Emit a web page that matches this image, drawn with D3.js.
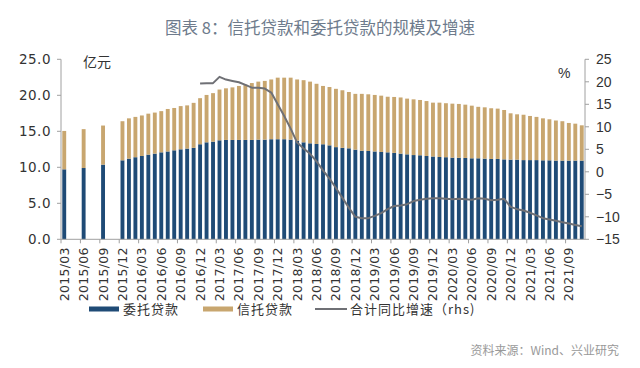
<!DOCTYPE html>
<html><head><meta charset="utf-8">
<script src="https://cdn.jsdelivr.net/npm/d3@7"></script>
<style>
body{margin:0;background:#fff;}
svg{display:block;}
</style></head>
<body>
<svg id="c" width="640" height="368"></svg>
<script>
// Monthly categories 2015/03 .. 2021/11
const months = [];
for (let y = 2015; y <= 2021; y++) {
  for (let m = 1; m <= 12; m++) {
    if (y === 2015 && m < 3) continue;
    if (y === 2021 && m > 11) continue;
    months.push(y + "/" + String(m).padStart(2, "0"));
  }
}
// 委托贷款
const entrust = [9.72,null,null,9.9,null,null,10.37,null,null,10.97,
 11.2,11.4,11.57,11.76,11.9,12.08,12.2,12.36,12.5,12.6,12.7,13.2,
 13.47,13.56,13.75,13.8,13.8,13.8,13.8,13.8,13.84,13.84,13.9,13.9,
 13.9,13.84,13.7,13.47,13.33,13.24,13.2,13.05,12.8,12.7,12.64,12.45,
 12.3,12.27,12.2,12.13,12.08,12.0,11.9,11.8,11.7,11.67,11.57,11.5,
 11.43,11.4,11.34,11.32,11.3,11.25,11.25,11.2,11.16,11.16,11.1,11.06,
 11.06,11.0,11.0,11.0,10.97,10.97,10.93,10.93,10.93,10.93,10.93];
// 信托贷款
const trust = [5.33,null,null,5.4,null,null,5.43,null,null,5.43,
 5.6,5.6,5.63,5.69,5.7,5.72,5.9,5.88,6.0,6.0,6.25,6.4,
 6.58,6.74,7.05,7.17,7.3,7.5,7.7,7.9,8.06,8.16,8.3,8.55,
 8.55,8.61,8.5,8.63,8.57,8.36,8.1,8.1,8.1,8.0,7.82,7.75,
 7.9,7.87,7.85,7.82,7.72,7.77,7.8,7.74,7.74,7.68,7.63,7.48,
 7.55,7.5,7.5,7.48,7.4,7.31,7.15,7.13,7.04,6.99,6.86,6.44,
 6.3,6.3,6.13,6.0,5.83,5.7,5.57,5.47,5.23,5.13,4.9];
// 合计同比增速 (rhs, %)
const growth = [null,null,null,null,null,null,null,null,null,null,
 null,null,null,null,null,null,null,null,null,null,null,19.6,
 19.7,19.7,21.1,20.5,20.2,19.9,19.3,18.7,18.7,18.5,17.6,15.0,
 12.4,9.6,6.5,5.2,4.0,2.3,0.3,-1.5,-3.6,-5.8,-8.0,-10.0,
 -10.3,-10.3,-9.8,-9.2,-8.3,-7.6,-7.5,-7.2,-6.5,-6.2,-6.0,-5.9,
 -5.9,-6.0,-6.1,-6.0,-6.1,-6.2,-5.9,-6.0,-6.3,-6.2,-6.0,-7.8,
 -8.3,-8.6,-9.1,-9.7,-10.3,-10.6,-10.9,-11.2,-11.5,-11.8,-12.1];
const leftTicks = [0,5,10,15,20,25];
const rightTicks = [-15,-10,-5,0,5,10,15,20,25];

const svg = d3.select("#c");
const L = 61, R = 585, T = 59.3, B = 239.3;
const C_BLUE = "#1f4b76", C_TAN = "#c8a66f", C_LINE = "#6f7075", C_AX = "#a0a0a0";

const x = d3.scaleBand().domain(months).range([L, R]).paddingInner(0.4).paddingOuter(0.2);
const yL = d3.scaleLinear().domain([0, 25]).range([B, T]);
const yR = d3.scaleLinear().domain([-15, 25]).range([B, T]);
const step = x.step();

// title
svg.append("text").attr("x", 320).attr("y", 33.5).attr("text-anchor", "middle")
  .attr("font-family", "Noto Sans CJK SC").attr("font-size", 16.5).attr("fill", "#6e7b8c")
  .text("图表 8：信托贷款和委托贷款的规模及增速");

// bars
const data = months.map((m, i) => ({m, e: entrust[i], t: trust[i], g: growth[i]}));
const bw = x.bandwidth();
svg.append("g").selectAll("rect").data(data.filter(d => d.e != null)).join("rect")
  .attr("x", d => x(d.m)).attr("width", bw)
  .attr("y", d => yL(d.e)).attr("height", d => yL(0) - yL(d.e)).attr("fill", C_BLUE);
svg.append("g").selectAll("rect").data(data.filter(d => d.t != null)).join("rect")
  .attr("x", d => x(d.m)).attr("width", bw)
  .attr("y", d => yL(d.e + d.t)).attr("height", d => yL(d.e) - yL(d.e + d.t)).attr("fill", C_TAN);

// line
const line = d3.line().defined(d => d.g != null)
  .x(d => x(d.m) + bw / 2).y(d => yR(d.g));
svg.append("path").datum(data).attr("d", line).attr("fill", "none")
  .attr("stroke", C_LINE).attr("stroke-width", 2).attr("stroke-linejoin", "round");

// axes
const ax = svg.append("g").attr("stroke", C_AX).attr("stroke-width", 1);
ax.append("line").attr("x1", L).attr("x2", L).attr("y1", T).attr("y2", B);
ax.append("line").attr("x1", R).attr("x2", R).attr("y1", T).attr("y2", B);
ax.append("line").attr("x1", L).attr("x2", R).attr("y1", B).attr("y2", B);
leftTicks.forEach(v => {
  ax.append("line").attr("x1", L - 4).attr("x2", L).attr("y1", yL(v)).attr("y2", yL(v));
  svg.append("text").attr("x", 51).attr("y", yL(v)).attr("dy", "0.36em").attr("text-anchor", "end")
    .attr("font-family", "DejaVu Sans").attr("font-size", 13.5).attr("fill", "#333")
    .attr("letter-spacing", 0.5).text(v.toFixed(1));
});
rightTicks.forEach(v => {
  ax.append("line").attr("x1", R).attr("x2", R + 4).attr("y1", yR(v)).attr("y2", yR(v));
  svg.append("text").attr("x", 596).attr("y", yR(v)).attr("dy", "0.36em").attr("text-anchor", "start")
    .attr("font-family", "Liberation Sans").attr("font-size", 14).attr("fill", "#333")
    .text(v < 0 ? "\u2212" + Math.abs(v) : v);
});
months.forEach((m, i) => {
  if (i % 3 !== 0) return;
  const bx = x(m) - step * 0.2;
  ax.append("line").attr("x1", bx).attr("x2", bx).attr("y1", B).attr("y2", B + 4);
  const cx = x(m) + bw / 2;
  svg.append("text").attr("transform", `translate(${cx},${B + 8}) rotate(-90)`)
    .attr("text-anchor", "end").attr("dy", "0.36em")
    .attr("font-family", "DejaVu Sans").attr("font-size", 12.5).attr("fill", "#333")
    .attr("letter-spacing", 0.3).text(m);
});

// unit labels
svg.append("text").attr("x", 83).attr("y", 67).attr("font-family", "Noto Sans CJK SC")
  .attr("font-size", 14).attr("fill", "#333").text("亿元");
svg.append("text").attr("x", 558).attr("y", 78).attr("font-family", "Liberation Sans")
  .attr("font-size", 14).attr("fill", "#333").text("%");

// legend
const lg = svg.append("g").attr("font-family", "Noto Sans CJK SC").attr("font-size", 13)
  .attr("fill", "#333").attr("letter-spacing", 1);
lg.append("rect").attr("x", 89).attr("y", 306.5).attr("width", 30).attr("height", 5).attr("fill", C_BLUE);
lg.append("text").attr("x", 123).attr("y", 309).attr("dy", "0.36em").text("委托贷款");
lg.append("rect").attr("x", 203).attr("y", 306.5).attr("width", 30).attr("height", 5).attr("fill", C_TAN);
lg.append("text").attr("x", 237).attr("y", 309).attr("dy", "0.36em").text("信托贷款");
lg.append("line").attr("x1", 315).attr("x2", 347).attr("y1", 309).attr("y2", 309)
  .attr("stroke", C_LINE).attr("stroke-width", 2);
lg.append("text").attr("x", 350).attr("y", 309).attr("dy", "0.36em").text("合计同比增速（rhs)");

// source
svg.append("text").attr("x", 619).attr("y", 355).attr("text-anchor", "end")
  .attr("font-family", "Noto Sans CJK SC").attr("font-size", 12).attr("fill", "#999")
  .text("资料来源：Wind、兴业研究");
</script>
</body></html>
